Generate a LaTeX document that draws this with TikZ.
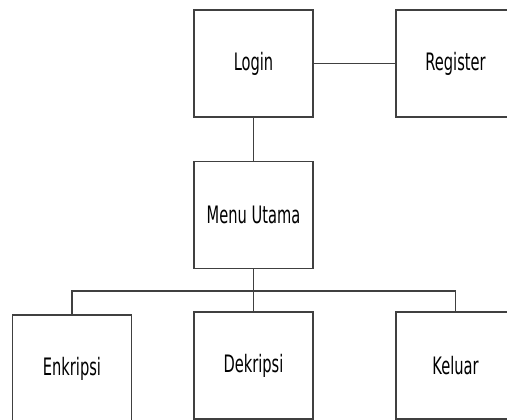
\documentclass[tikz,border=0pt]{standalone}
\usepackage{fontspec}
\setmainfont{DejaVu Sans}[FakeStretch=0.61]
\definecolor{MyBoxLine}{rgb}{0.25, 0.25, 0.25}

\begin{document}
\begin{tikzpicture}[x=0.75pt, y=-0.75pt,
		menubox/.style={draw=MyBoxLine, line width=1pt, fill=white,
			minimum width=89.25pt, minimum height=80.25pt, inner sep=0pt,
			font=\fontsize{18}{20}\selectfont},
		link/.style={draw=MyBoxLine, line width=1pt}]
		\useasboundingbox (0,0) rectangle (507,420);
		\node[menubox] (login) at (253.5,63.5) {Login};
		\node[menubox] (register) at (455.5,63.5) {Register};
		\node[menubox] (menu) at (253.5,215) {Menu Utama};
		\node[menubox] (enkripsi) at (72,368.5) {Enkripsi};
		\node[menubox] (dekripsi) at (253.5,365.5) {Dekripsi};
		\node[menubox] (keluar) at (455.5,365.5) {Keluar};
		\coordinate (bus) at (253.5,291);
		\draw[link] (login.east) -- (register.west);
		\draw[link] (login.south) -- (menu.north);
		\draw[link] (menu.south) -- (bus);
		\draw[link] (bus) -| (enkripsi.north);
		\draw[link] (bus) -- (dekripsi.north);
		\draw[link] (bus) -| (keluar.north);
	\end{tikzpicture}
\end{document}
